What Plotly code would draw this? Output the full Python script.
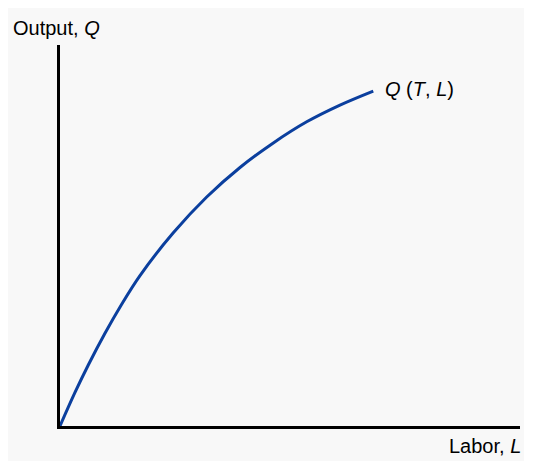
import plotly.graph_objects as go

# Production function Q(T, L) (arbitrary units, 0-100)
labor = [0, 3.26, 6.15, 9.78, 13.41, 17.39, 24.63, 31.89, 39.13, 46.37, 53.63, 60.87, 68.1]
output = [0, 8.8, 16.0, 24.35, 31.97, 39.5, 50.7, 60.1, 67.85, 74.3, 79.84, 84.23, 87.91]

curve_label = "<i>Q</i> (<i>T</i>, <i>L</i>)"
x_label = "Labor, <i>L</i>"
y_label = "Output, <i>Q</i>"

fig = go.Figure()

fig.add_trace(go.Scatter(
    x=labor, y=output,
    mode="lines",
    line=dict(color="#0b3f9e", width=3, shape="spline", smoothing=1.0),
    hoverinfo="skip",
    showlegend=False,
    cliponaxis=False,
))

# curve label at the end of the line
fig.add_annotation(x=labor[-1], y=output[-1], text=curve_label,
                   xref="x", yref="y", xanchor="left", yanchor="middle",
                   xshift=10, yshift=2, showarrow=False,
                   font=dict(size=20, color="black"))

fig.add_annotation(x=-0.106, y=1.045, xref="paper", yref="paper", text=y_label,
                   xanchor="left", yanchor="middle", showarrow=False,
                   font=dict(size=20, color="black"))

fig.add_annotation(x=1.006, y=-0.052, xref="paper", yref="paper", text=x_label,
                   xanchor="right", yanchor="middle", showarrow=False,
                   font=dict(size=20, color="black"))

fig.update_layout(
    width=516, height=453,
    margin=dict(l=52, r=4, t=37, b=35),
    paper_bgcolor="#f8f8f8",
    plot_bgcolor="#f8f8f8",
    font=dict(family="Liberation Sans, Arial, sans-serif", color="black"),
    xaxis=dict(range=[0, 100], showgrid=False, zeroline=False, showticklabels=False,
               ticks="", showline=True, linecolor="black", linewidth=3, fixedrange=True),
    yaxis=dict(range=[0, 100], showgrid=False, zeroline=False, showticklabels=False,
               ticks="", showline=True, linecolor="black", linewidth=3, fixedrange=True),
)

fig.write_html("out.html")
